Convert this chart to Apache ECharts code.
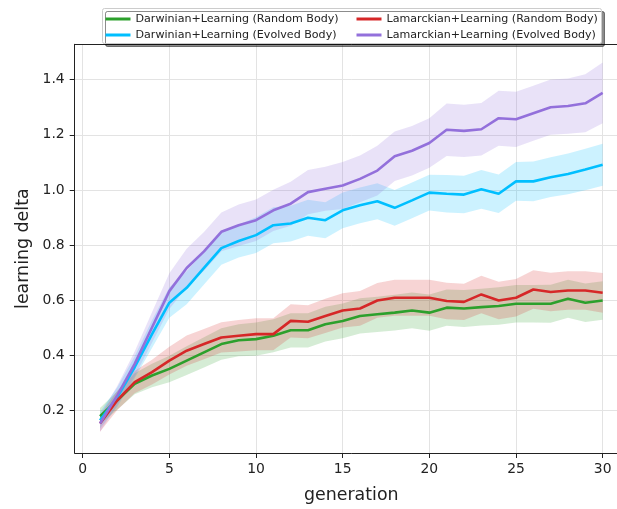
<!DOCTYPE html>
<html>
<head>
<meta charset="utf-8">
<script src="https://cdn.jsdelivr.net/npm/echarts@6/dist/echarts.min.js"></script>
<style>
  html, body { margin: 0; padding: 0; background: #fff; overflow: hidden; }
  /* wider than the window: the plot box runs past the right edge, so its right spine is cut off */
  #main { width: 640px; height: 509px; }
</style>
</head>
<body>
<div id="main"></div>
<script>
// generations 1..30
var generations = [1,2,3,4,5,6,7,8,9,10,11,12,13,14,15,16,17,18,19,20,21,22,23,24,25,26,27,28,29,30];

// mean learning delta per generation
var darwinRandom = [0.179,0.237,0.297,0.327,0.351,0.381,0.411,0.441,0.455,0.459,0.471,0.491,0.491,0.513,0.525,
                    0.543,0.549,0.555,0.563,0.555,0.573,0.570,0.575,0.579,0.587,0.587,0.587,0.605,0.591,0.599];
var darwinEvolved = [0.165,0.249,0.357,0.477,0.591,0.645,0.717,0.789,0.815,0.836,0.872,0.878,0.899,0.890,0.926,
                     0.944,0.959,0.935,0.962,0.990,0.986,0.983,1.002,0.986,1.031,1.031,1.046,1.058,1.074,1.091];
var lamarckRandom = [0.153,0.237,0.303,0.339,0.381,0.417,0.441,0.465,0.471,0.477,0.477,0.525,0.522,0.543,0.563,
                     0.570,0.599,0.609,0.609,0.609,0.597,0.594,0.621,0.599,0.609,0.639,0.630,0.635,0.635,0.627];
var lamarckEvolved = [0.153,0.255,0.369,0.501,0.633,0.717,0.777,0.848,0.872,0.890,0.926,0.950,0.992,1.004,1.016,
                      1.040,1.070,1.122,1.142,1.170,1.218,1.214,1.220,1.260,1.256,1.278,1.300,1.304,1.314,1.352];

// half width of the shaded band
var darwinRandomSpread = [0.030,0.033,0.038,0.043,0.048,0.052,0.055,0.057,0.058,0.060,0.060,0.062,0.062,0.063,0.063,
                          0.064,0.064,0.065,0.065,0.066,0.066,0.067,0.067,0.068,0.068,0.068,0.069,0.069,0.070,0.070];
var darwinEvolvedSpread = [0.030,0.035,0.040,0.050,0.055,0.060,0.060,0.060,0.060,0.065,0.065,0.065,0.065,0.065,0.065,
                           0.065,0.065,0.065,0.065,0.065,0.068,0.068,0.070,0.070,0.070,0.072,0.072,0.074,0.075,0.076];
var lamarckRandomSpread = [0.030,0.035,0.040,0.045,0.050,0.055,0.055,0.055,0.057,0.058,0.058,0.060,0.060,0.062,0.062,
                           0.063,0.063,0.065,0.065,0.065,0.066,0.066,0.068,0.068,0.068,0.070,0.070,0.070,0.070,0.072];
var lamarckEvolvedSpread = [0.030,0.035,0.045,0.055,0.065,0.070,0.070,0.070,0.075,0.075,0.075,0.080,0.080,0.080,0.085,
                            0.085,0.090,0.090,0.090,0.090,0.095,0.095,0.095,0.100,0.100,0.100,0.100,0.100,0.105,0.110];

var xTicks = [0,5,10,15,20,25,30];
var yTicks = [0.2,0.4,0.6,0.8,1.0,1.2,1.4];

var groups = [
  { name: 'Darwinian+Learning (Random Body)', mean: darwinRandom, spread: darwinRandomSpread, color: '#2ca02c', rgb: '44,160,44' },
  { name: 'Darwinian+Learning (Evolved Body)', mean: darwinEvolved, spread: darwinEvolvedSpread, color: '#00bfff', rgb: '0,191,255' },
  { name: 'Lamarckian+Learning (Random Body)', mean: lamarckRandom, spread: lamarckRandomSpread, color: '#d62728', rgb: '214,39,40' },
  { name: 'Lamarckian+Learning (Evolved Body)', mean: lamarckEvolved, spread: lamarckEvolvedSpread, color: '#9370db', rgb: '147,112,219' }
];

var series = [];
groups.forEach(function (g) {
  // band = mean +/- spread, drawn as one polygon through the axes
  var bandData = generations.map(function (x, i) {
    return [x, g.mean[i] - g.spread[i], g.mean[i] + g.spread[i]];
  });
  series.push({
    type: 'custom', silent: true, z: 1,
    data: bandData,
    encode: { x: 0, y: [1, 2] },
    renderItem: function (params, api) {
      if (params.dataIndex !== 0) return null;
      var pts = [];
      bandData.forEach(function (d) { pts.push(api.coord([d[0], d[2]])); });
      for (var i = bandData.length - 1; i >= 0; i--) pts.push(api.coord([bandData[i][0], bandData[i][1]]));
      return {
        type: 'polygon',
        shape: { points: pts },
        style: { fill: 'rgba(' + g.rgb + ',0.2)', stroke: 'none' }
      };
    }
  });
});
groups.forEach(function (g) {
  series.push({
    name: g.name, type: 'line', symbol: 'none', z: 3,
    data: generations.map(function (x, i) { return [x, g.mean[i]]; }),
    lineStyle: { color: g.color, width: 2.6 }, itemStyle: { color: g.color }
  });
});

var myChart = echarts.init(document.getElementById('main'));
var fontFam = 'DejaVu Sans';
var legendText = { fontFamily: fontFam, fontSize: 11.1, color: '#222', lineHeight: 13 };

myChart.setOption({
  animation: false,
  backgroundColor: '#fff',
  textStyle: { fontFamily: fontFam },
  grid: { left: 74.7, top: 44.3, right: 12.2, bottom: 52.3 },
  graphic: [{
    type: 'rect', z: 100,
    shape: { x: 102.5, y: 8.5, width: 499, height: 35, r: 2 },
    style: { fill: '#fff', stroke: '#ccc', lineWidth: 1,
             shadowColor: 'rgba(0,0,0,0.45)', shadowOffsetX: 3, shadowOffsetY: 3, shadowBlur: 0 }
  }],
  legend: [{
    data: [groups[0].name, groups[1].name],
    left: 105.5, top: 12.5, orient: 'vertical', padding: 0, itemGap: 3,
    icon: 'rect', itemWidth: 25, itemHeight: 3, z: 110, textStyle: legendText
  }, {
    data: [groups[2].name, groups[3].name],
    left: 356.5, top: 12.5, orient: 'vertical', padding: 0, itemGap: 3,
    icon: 'rect', itemWidth: 25, itemHeight: 3, z: 110, textStyle: legendText
  }],
  xAxis: [{
    type: 'value', min: -0.46, max: 31.45,
    name: 'generation', nameLocation: 'middle', nameGap: 34,
    nameTextStyle: { fontFamily: fontFam, fontSize: 17.4, color: '#222' },
    axisLine: { show: true, onZero: false, lineStyle: { color: '#222', width: 1 } },
    axisTick: { show: true, inside: false, length: 5, customValues: xTicks, lineStyle: { color: '#222' } },
    axisLabel: { customValues: xTicks, margin: 9, fontFamily: fontFam, fontSize: 13.9, color: '#222' },
    splitLine: { show: true, lineStyle: { color: '#e3e3e3', width: 1 } }
  }, {
    // top spine only
    type: 'value', position: 'top', min: -0.46, max: 31.45,
    axisLine: { show: true, onZero: false, lineStyle: { color: '#222', width: 1 } },
    axisTick: { show: false }, axisLabel: { show: false }, splitLine: { show: false }
  }],
  yAxis: {
    type: 'value', min: 0.046, max: 1.528,
    name: 'learning delta', nameLocation: 'middle', nameGap: 43,
    nameTextStyle: { fontFamily: fontFam, fontSize: 17.4, color: '#222' },
    axisLine: { show: true, onZero: false, lineStyle: { color: '#222', width: 1 } },
    axisTick: { show: true, inside: false, length: 5, customValues: yTicks, lineStyle: { color: '#222' } },
    axisLabel: { customValues: yTicks, margin: 10, fontFamily: fontFam, fontSize: 13.9, color: '#222',
                 formatter: function (v) { return v.toFixed(1); } },
    splitLine: { show: true, lineStyle: { color: '#e3e3e3', width: 1 } }
  },
  series: series
});
</script>
</body>
</html>
